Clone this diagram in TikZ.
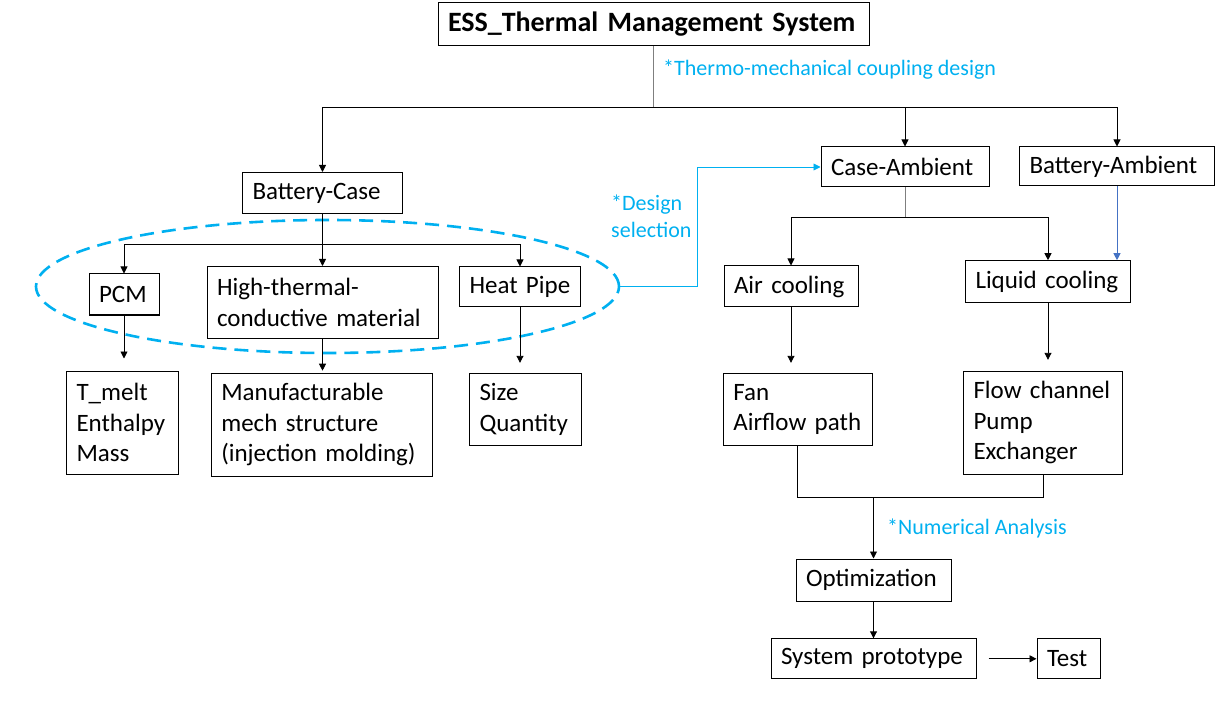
\documentclass[tikz,border=0pt]{standalone}
\usepackage{fontspec}
\setmainfont{Carlito}
\usetikzlibrary{arrows.meta,shapes.geometric}
\definecolor{cy}{HTML}{00B0F0}
\definecolor{bl}{HTML}{4472C4}
\definecolor{gl}{HTML}{7F7F7F}
\exhyphenpenalty=10000
\hyphenpenalty=10000
\begin{document}
\begin{tikzpicture}[x=1pt,y=-1pt,
  box/.style={draw,line width=1pt,inner xsep=10pt,inner ysep=0pt,align=left,
    font=\fontsize{25}{30.5}\selectfont},
  lab/.style={text=cy,inner sep=0pt,align=left,font=\fontsize{22}{27}\selectfont},
  ln/.style={line width=0.9pt},
  arr/.style={ln,-{Triangle[length=7pt,width=7pt]}}]
\useasboundingbox (0,0) rectangle (1227,714);
% boxes
\node[box,text width=411pt,minimum height=43pt,font=\bfseries\fontsize{28}{34}\selectfont] (title) at (653.5,24.5) {ESS\_Thermal~Management~System};
\node[box,text width=140pt,minimum height=41pt] (bc) at (322.5,193) {\mbox{Battery-Case}};
\node[box,text width=50pt,minimum height=41pt] (pcm) at (124,294.5) {PCM};
\node[box,text width=211pt,minimum height=72pt] (htc) at (322.5,302.5) {High-thermal-\\conductive~material};
\node[box,text width=101pt,minimum height=40pt] (hp) at (520,287) {Heat~Pipe};
\node[box,text width=148pt,minimum height=40pt] (ca) at (905,167) {\mbox{Case-Ambient}};
\node[box,text width=175pt,minimum height=39pt] (ba) at (1117,166.5) {\mbox{Battery-Ambient}};
\node[box,text width=114pt,minimum height=41pt] (air) at (791,286.5) {Air~cooling};
\node[box,text width=145pt,minimum height=42pt] (liq) at (1048,281.7) {Liquid~cooling};
\node[box,text width=92pt,minimum height=103pt] (tm) at (122.5,422.5) {T\_melt\\Enthalpy\\Mass};
\node[box,text width=201pt,minimum height=103pt] (man) at (321.8,424.7) {Manufacturable\\mech~structure\\(injection~molding)};
\node[box,text width=92pt,minimum height=72pt] (size) at (525.5,409.3) {Size\\Quantity};
\node[box,text width=129pt,minimum height=72pt] (fan) at (797.8,409.3) {Fan\\Airflow~path};
\node[box,text width=139pt,minimum height=103pt] (flow) at (1043,422.8) {Flow~channel\\Pump\\Exchanger};
\node[box,text width=135pt,minimum height=42pt] (opt) at (873.5,580) {Optimization};
\node[box,text width=185pt,minimum height=40pt] (sp) at (873.5,658.8) {System~prototype};
\node[box,text width=43pt,minimum height=40pt] (test) at (1068.5,658.8) {Test};
% dashed grouping ellipse
\node[ellipse,draw=cy,line width=2.6pt,dash pattern=on 14pt off 8pt,minimum width=583pt,minimum height=133pt,inner sep=0pt] (ell) at (327.5,286.5) {};
% labels
\node[lab,anchor=west] (l1) at (663,70) {*Thermo-mechanical coupling design};
\node[lab,anchor=west] (l2) at (611,216.5) {*Design\\selection};
\node[lab,anchor=west] (l3) at (887,528) {*Numerical Analysis};
% junctions
\coordinate (jt) at (653.5,107);
\coordinate (jb) at (322.5,244);
\coordinate (jc) at (905,217);
\coordinate (jm) at (873.5,497);
\coordinate (cd) at (697,286.5);
% connectors
\draw[ln,gl] (title) -- (jt);
\draw[arr] (jt) -| (bc);
\draw[arr] (jt) -| (ca);
\draw[arr] (jt) -| (ba);
\draw[ln] (bc) -- (jb);
\draw[arr] (jb) -| (pcm);
\draw[arr] (jb) -- (htc);
\draw[arr] (jb) -| (hp);
\draw[arr,shorten >=12pt] (pcm.south) -- (pcm.south |- tm.north);
\draw[arr,shorten >=2pt] (htc.south) -- (htc.south |- man.north);
\draw[arr,shorten >=10pt] (hp.south) -- (hp.south |- size.north);
\draw[ln,gl] (ca) -- (jc);
\draw[arr] (jc) -| (air);
\draw[arr] (jc) -| (liq);
\draw[arr,bl] (ba.south) -- (ba.south |- liq.north);
\draw[arr,cy] (ell.east) -- (cd) |- (ca);
\draw[arr,shorten >=10pt] (air.south) -- (air.south |- fan.north);
\draw[arr,shorten >=11pt] (liq.south) -- (liq.south |- flow.north);
\draw[ln] (fan.south) |- (jm);
\draw[ln] (flow.south) |- (jm);
\draw[arr] (jm) -- (opt);
\draw[arr] (opt) -- (sp);
\draw[arr,shorten <=12pt] (sp) -- (test);
\end{tikzpicture}
\end{document}
